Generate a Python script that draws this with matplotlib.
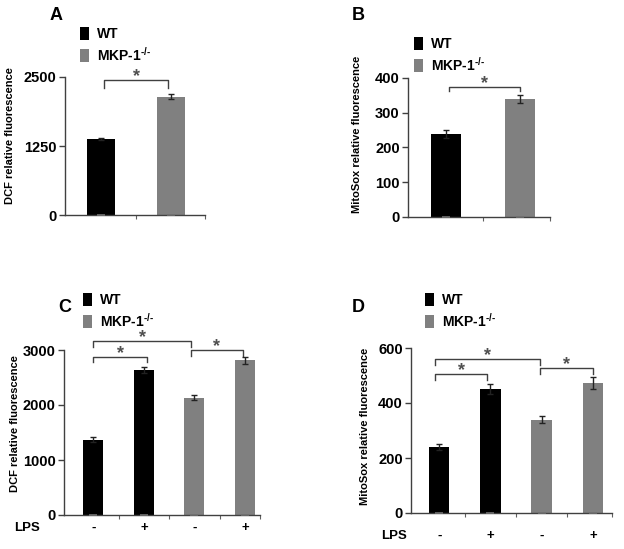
import matplotlib
matplotlib.use("Agg")
import matplotlib.pyplot as plt
from matplotlib.patches import Patch

plt.rcParams['font.family'] = ['Liberation Sans', 'DejaVu Sans']
plt.rcParams['font.weight'] = 'bold'
plt.rcParams['mathtext.fontset'] = 'custom'
plt.rcParams['mathtext.rm'] = 'Liberation Sans'
plt.rcParams['mathtext.it'] = 'Liberation Sans'

# ---- data ----
groups = ["WT", "MKP-1$^{\\text{-/-}}$"]
colors_grp = ["#000000", "#808080"]

a_vals = [1375, 2140]
a_err = [15, 45]
a_ticks = [0, 1250, 2500]

b_vals = [238, 340]
b_err = [12, 12]
b_ticks = [0, 100, 200, 300, 400]

c_vals = [1370, 2640, 2130, 2810]
c_err = [40, 50, 45, 65]
c_ticks = [0, 1000, 2000, 3000]

d_vals = [240, 452, 340, 472]
d_err = [12, 18, 12, 22]
d_ticks = [0, 200, 400, 600]

lps_labels = ["-", "+", "-", "+"]
c_groups = [0, 0, 1, 1]

# brackets: (x1, x2, y_top, y_leg)
a_br = [(0.04, 0.96, 2446, 2300)]
b_br = [(0.04, 1.0, 374, 362)]
c_br = [(0.0, 1.93, 3164, 3055), (0.0, 1.06, 2873, 2782), (1.93, 2.96, 3000, 2891)]
d_br = [(-0.08, 1.97, 560, 538), (-0.08, 0.94, 505, 484), (1.97, 3.0, 527, 505)]

W, H = 624, 549
fig = plt.figure(figsize=(W / 100, H / 100), dpi=100)


def ax_px(l, r, b, t):
    return fig.add_axes([l / W, 1 - b / H, (r - l) / W, (b - t) / H])


def style(ax, ticks, xlim, n):
    ax.set_ylim(ticks[0], ticks[-1])
    ax.set_yticks(ticks)
    ax.set_xlim(*xlim)
    for s in ['top', 'right']:
        ax.spines[s].set_visible(False)
    for s in ['left', 'bottom']:
        ax.spines[s].set_color('#404040')
        ax.spines[s].set_linewidth(1.0)
    ax.tick_params(axis='y', labelsize=10.5, length=4, width=1, color='#404040', pad=2)
    ax.set_xticks([i + 0.5 for i in range(n - 1)] + [xlim[1]])
    ax.set_xticklabels([])
    ax.tick_params(axis='x', length=3, width=0.8, color='#606060')
    for lab in ax.get_yticklabels():
        lab.set_fontweight('bold')
    # little dashes under each bar
    ax.plot(range(n), [0] * n, ls='none', marker='_', ms=6, mew=1.2,
            color='#707070', clip_on=False, zorder=5)


def bars(ax, vals, errs, cols):
    x = list(range(len(vals)))
    ax.bar(x, vals, width=0.4, color=cols, edgecolor='none', zorder=2)
    ax.errorbar(x, vals, yerr=errs, fmt='none', ecolor='#222222',
                elinewidth=1.0, capsize=2.5, capthick=1.0, zorder=3)


def brackets(ax, brs, fs=13):
    for x1, x2, yt, yl in brs:
        ax.plot([x1, x1, x2, x2], [yl, yt, yt, yl], color='#404040', lw=1.0,
                clip_on=False)
        ax.annotate('*', ((x1 + x2) / 2, yt), xytext=(0, -3.5),
                    textcoords='offset points', ha='center', va='bottom',
                    fontsize=fs, color='#505050', annotation_clip=False)


def legend(xpx, ypx):
    handles = [Patch(facecolor=c, edgecolor='none', label=g)
               for g, c in zip(groups, colors_grp)]
    fig.legend(handles=handles, loc='upper left',
               bbox_to_anchor=(xpx / W, 1 - ypx / H), frameon=False,
               fontsize=10, handlelength=0.65, handleheight=1.05,
               handletextpad=0.6, labelspacing=0.3, borderpad=0,
               borderaxespad=0)


# Panel A
axA = ax_px(65, 205, 215, 77)
bars(axA, a_vals, a_err, colors_grp)
style(axA, a_ticks, (-0.51, 1.48), 2)
brackets(axA, a_br)
legend(80, 27)
fig.text(50 / W, 1 - 15 / H, "A", fontsize=13, fontweight='bold', va='center')
fig.text(10 / W, 1 - 136 / H, "DCF relative fluorescence", rotation=90,
         fontsize=8, fontweight='bold', ha='center', va='center')

# Panel B
axB = ax_px(408, 550, 217, 78)
bars(axB, b_vals, b_err, colors_grp)
style(axB, b_ticks, (-0.51, 1.4), 2)
brackets(axB, b_br)
legend(414, 37)
fig.text(352 / W, 1 - 15 / H, "B", fontsize=13, fontweight='bold', va='center')
fig.text(357 / W, 1 - 134 / H, "MitoSox relative fluorescence", rotation=90,
         fontsize=8, fontweight='bold', ha='center', va='center')

# Panel C
axC = ax_px(64, 260, 515, 350)
bars(axC, c_vals, c_err, [colors_grp[g] for g in c_groups])
style(axC, c_ticks, (-0.58, 3.3), 4)
brackets(axC, c_br)
legend(83, 293)
fig.text(58 / W, 1 - 307 / H, "C", fontsize=13, fontweight='bold', va='center')
fig.text(15 / W, 1 - 424 / H, "DCF relative fluorescence", rotation=90,
         fontsize=8, fontweight='bold', ha='center', va='center')
for i, l in enumerate(lps_labels):
    axC.annotate(l, (i, 0), xytext=(0, -9.5), textcoords='offset points',
                 ha='center', va='center', fontsize=9.5, annotation_clip=False)
fig.text(27 / W, 1 - 528 / H, "LPS", fontsize=9.5, fontweight='bold',
         ha='center', va='center')

# Panel D
axD = ax_px(411, 612, 513, 348)
bars(axD, d_vals, d_err, [colors_grp[g] for g in c_groups])
style(axD, d_ticks, (-0.55, 3.37), 4)
brackets(axD, d_br)
legend(425, 293)
fig.text(352 / W, 1 - 307 / H, "D", fontsize=13, fontweight='bold', va='center')
fig.text(365 / W, 1 - 426 / H, "MitoSox relative fluorescence", rotation=90,
         fontsize=8, fontweight='bold', ha='center', va='center')
for i, l in enumerate(lps_labels):
    axD.annotate(l, (i, 0), xytext=(0, -16.5), textcoords='offset points',
                 ha='center', va='center', fontsize=9.5, annotation_clip=False)
fig.text(394 / W, 1 - 536 / H, "LPS", fontsize=9.5, fontweight='bold',
         ha='center', va='center')

fig.savefig("out.png", dpi=100, facecolor='white')
